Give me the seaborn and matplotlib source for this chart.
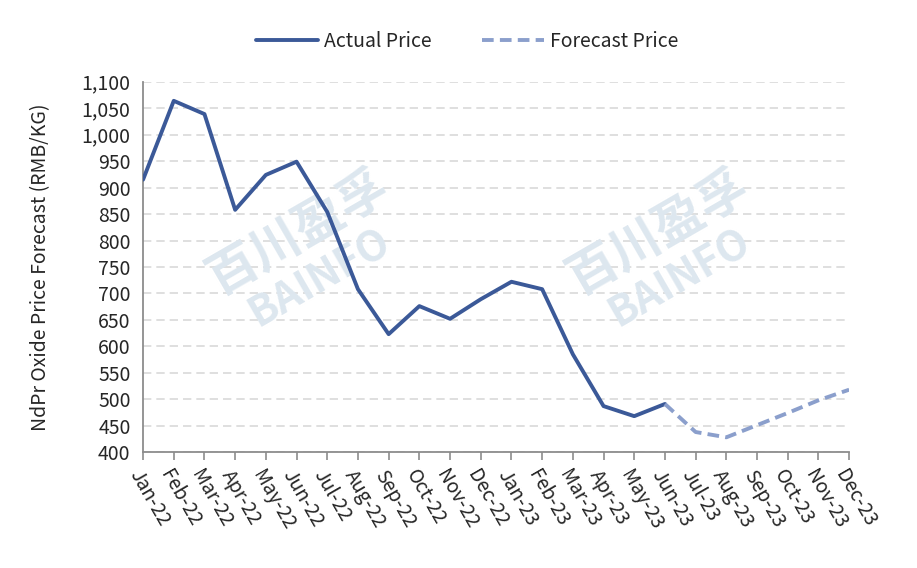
import pandas as pd
import matplotlib
matplotlib.use("Agg")
import matplotlib.pyplot as plt
import matplotlib.ticker as mticker
import seaborn as sns

# DATA
months = ["Jan-22", "Feb-22", "Mar-22", "Apr-22", "May-22", "Jun-22",
          "Jul-22", "Aug-22", "Sep-22", "Oct-22", "Nov-22", "Dec-22",
          "Jan-23", "Feb-23", "Mar-23", "Apr-23", "May-23", "Jun-23",
          "Jul-23", "Aug-23", "Sep-23", "Oct-23", "Nov-23", "Dec-23"]
actual = [915, 1064, 1039, 858, 924, 949, 854, 708, 623, 676, 652, 689,
          722, 708, 585, 487, 468, 491]
forecast = [491, 438, 428, 451, 474, 498, 518]  # Jun-23 .. Dec-23

df_act = pd.DataFrame({"idx": range(len(actual)), "price": actual})
start = len(actual) - 1
df_fc = pd.DataFrame({"idx": range(start, start + len(forecast)), "price": forecast})

sns.set_theme(style="white")
plt.rcParams["font.family"] = ["Noto Sans CJK SC", "DejaVu Sans"]

fig = plt.figure(figsize=(9.17, 5.68), dpi=100)
ax = fig.add_axes([0.156, 0.204, 0.770, 0.652])

# watermarks
for wx, wy in [(0.22, 0.54), (0.73, 0.54)]:
    ax.text(wx, wy + 0.05, "百川盈孚", transform=ax.transAxes, fontsize=36,
            color="#dde7ef", rotation=30, ha="center", va="center",
            fontweight="bold", zorder=1)
    ax.text(wx + 0.03, wy - 0.07, "BAINFO", transform=ax.transAxes, fontsize=30,
            color="#dde7ef", rotation=30, ha="center", va="center",
            fontweight="bold", zorder=1)

sns.lineplot(data=df_act, x="idx", y="price", ax=ax, color="#3b5998",
             linewidth=2.8, label="Actual Price", zorder=3)
sns.lineplot(data=df_fc, x="idx", y="price", ax=ax, color="#8b9fcc",
             linewidth=2.8, linestyle=(0, (3, 1.6)), label="Forecast Price", zorder=3)

ax.set_xlim(0, len(months) - 1)
ax.set_ylim(400, 1100)
ax.yaxis.set_major_locator(mticker.MultipleLocator(50))
ax.yaxis.set_major_formatter(mticker.FuncFormatter(lambda v, p: f"{int(v):,}"))
ax.set_xticks(range(len(months)))
ax.set_xticklabels(months, rotation=-60, ha="left", rotation_mode="anchor")

ax.grid(axis="y", color="#d9d9d9", linestyle=(0, (5, 3)), linewidth=1.2)
ax.grid(axis="x", visible=False)
for s in ["top", "right"]:
    ax.spines[s].set_visible(False)
for s in ["left", "bottom"]:
    ax.spines[s].set_color("#8c8c8c")
    ax.spines[s].set_linewidth(1.3)
ax.tick_params(axis="x", direction="out", length=6, width=1.2, color="#8c8c8c",
               labelsize=14, pad=4, bottom=True)
ax.tick_params(axis="y", left=False, labelsize=14, pad=3)

ax.set_xlabel("")
ax.set_ylabel("NdPr Oxide Price Forecast (RMB/KG)", fontsize=14, labelpad=22)

ax.legend(loc="center", bbox_to_anchor=(0.459, 1.108), ncol=2, frameon=False,
          fontsize=14, handlelength=3.2, handletextpad=0.3, columnspacing=2.6)

fig.savefig("out.png", dpi=100)
